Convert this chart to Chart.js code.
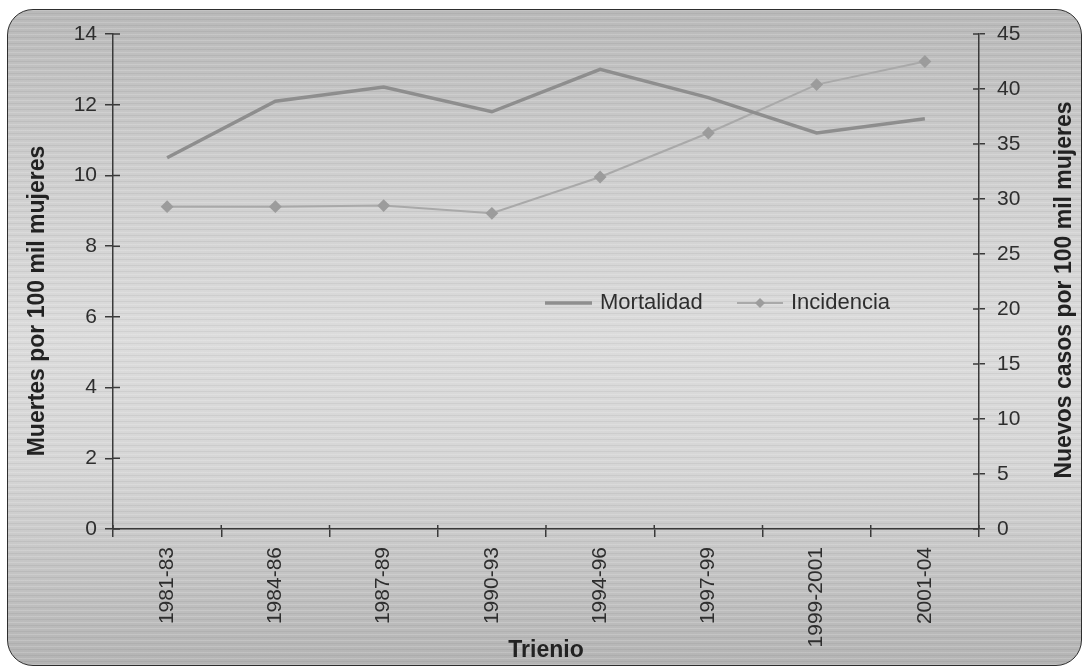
<!DOCTYPE html>
<html lang="es">
<head>
  <meta charset="UTF-8">
  <title>Mortalidad e incidencia por trienio</title>
  <script src="https://cdn.jsdelivr.net/npm/chart.js"></script>
  <style>
    html, body { margin: 0; padding: 0; background: #fff; }
    .wrap { position: relative; width: 1087px; height: 671px; overflow: hidden; }
    /* marco redondeado con degradado gris y rayas */
    .marco {
      position: absolute; left: 7px; top: 9px; width: 1073px; height: 655px;
      border: 1.5px solid #2e2e2e; border-radius: 26px;
      background:
        repeating-linear-gradient(to bottom, rgba(255,255,255,0.16) 0 1px, rgba(0,0,0,0) 1px 3px, rgba(0,0,0,0.05) 3px 4px, rgba(0,0,0,0) 4px 6px),
        linear-gradient(to bottom, #b9b9b9 0%, #cfcfcf 25%, #dcdcdc 50%, #d6d6d6 70%, #b4b4b4 100%);
    }
    canvas { position: absolute; left: 0; top: 0; }
  </style>
</head>
<body>
<div class="wrap">
  <div class="marco"></div>
  <canvas id="grafico" width="1087" height="671"></canvas>
</div>
<script>
  const trienios    = ['1981-83', '1984-86', '1987-89', '1990-93', '1994-96', '1997-99', '1999-2001', '2001-04'];
  const mortalidad  = [10.5, 12.1, 12.5, 11.8, 13.0, 12.2, 11.2, 11.6];
  const incidencia  = [29.3, 29.3, 29.4, 28.7, 32.0, 36.0, 40.4, 42.5];
  const tituloIzq   = 'Muertes por 100 mil mujeres';
  const tituloDer   = 'Nuevos casos por 100 mil mujeres';

  const fuente = '"Liberation Sans", Arial, sans-serif';
  const ejeColor = '#3a3a3a';
  const textoColor = '#2e2e2e';

  // marcas interiores de los ejes, títulos verticales y leyenda dentro del área
  const extras = {
    id: 'extras',
    afterDraw(chart) {
      const ctx = chart.ctx;
      const { x, y, y1 } = chart.scales;
      const ds = chart.data.datasets;
      ctx.save();
      ctx.strokeStyle = ejeColor;
      ctx.lineWidth = 1.5;
      ctx.beginPath();
      y.ticks.forEach((t, i) => {
        const py = y.getPixelForTick(i);
        ctx.moveTo(y.right, py); ctx.lineTo(y.right + 7, py);
      });
      y1.ticks.forEach((t, i) => {
        const py = y1.getPixelForTick(i);
        ctx.moveTo(y1.left, py); ctx.lineTo(y1.left - 6, py);
      });
      for (let i = 0; i <= trienios.length; i++) {
        const px = x.getPixelForValue(i - 0.5);
        ctx.moveTo(px, x.top); ctx.lineTo(px, x.top - 4);
      }
      ctx.stroke();

      // títulos de los ejes verticales (ambos de abajo hacia arriba)
      ctx.fillStyle = '#222';
      ctx.font = 'bold 23px ' + fuente;
      ctx.textAlign = 'center';
      ctx.textBaseline = 'middle';
      ctx.save();
      ctx.translate(38, 301);
      ctx.rotate(-Math.PI / 2);
      ctx.fillText(tituloIzq, 0, 0);
      ctx.restore();
      ctx.save();
      ctx.translate(1065, 290);
      ctx.rotate(-Math.PI / 2);
      ctx.fillText(tituloDer, 0, 0);
      ctx.restore();

      // leyenda
      const ly = 303;
      ctx.font = '22px ' + fuente;
      ctx.textAlign = 'left';
      ctx.fillStyle = textoColor;
      ctx.strokeStyle = ds[0].borderColor;
      ctx.lineWidth = ds[0].borderWidth;
      ctx.beginPath(); ctx.moveTo(545, ly); ctx.lineTo(592, ly); ctx.stroke();
      ctx.fillText(ds[0].label, 600, ly);
      ctx.strokeStyle = ds[1].borderColor;
      ctx.lineWidth = ds[1].borderWidth;
      ctx.beginPath(); ctx.moveTo(737, ly); ctx.lineTo(783, ly); ctx.stroke();
      ctx.fillStyle = ds[1].pointBackgroundColor;
      ctx.beginPath();
      ctx.moveTo(760, ly - 5); ctx.lineTo(765, ly); ctx.lineTo(760, ly + 5); ctx.lineTo(755, ly);
      ctx.closePath(); ctx.fill();
      ctx.fillStyle = textoColor;
      ctx.fillText(ds[1].label, 791, ly);
      ctx.restore();
    }
  };

  new Chart(document.getElementById('grafico'), {
    type: 'line',
    data: {
      labels: trienios,
      datasets: [
        {
          label: 'Mortalidad',
          data: mortalidad,
          yAxisID: 'y',
          borderColor: '#8e8e8e',
          borderWidth: 3.5,
          pointRadius: 0,
          tension: 0,
          fill: false
        },
        {
          label: 'Incidencia',
          data: incidencia,
          yAxisID: 'y1',
          borderColor: '#a9a9a9',
          borderWidth: 2,
          pointStyle: 'rectRot',
          pointRadius: 5,
          pointBackgroundColor: '#9c9c9c',
          pointBorderColor: '#9c9c9c',
          tension: 0,
          fill: false
        }
      ]
    },
    options: {
      responsive: false,
      animation: false,
      layout: { padding: { top: 34, left: 0, right: 0, bottom: 0 } },
      plugins: { legend: { display: false }, tooltip: { enabled: false } },
      scales: {
        x: {
          type: 'category',
          offset: true,
          grid: { display: true, drawOnChartArea: false, offset: true, tickLength: 8, color: ejeColor, lineWidth: 1.5 },
          border: { color: ejeColor, width: 1.5 },
          ticks: { autoSkip: false, minRotation: 90, maxRotation: 90, padding: 10, color: textoColor, font: { family: fuente, size: 21 } },
          title: { display: true, text: 'Trienio', color: '#222', font: { family: fuente, size: 23, weight: 'bold' }, padding: { top: 0, bottom: 7 } },
          afterFit: s => { s.height = 142; }
        },
        y: {
          position: 'left',
          min: 0, max: 14,
          grid: { display: true, drawOnChartArea: false, tickLength: 8, color: ejeColor, lineWidth: 1.5 },
          border: { color: ejeColor, width: 1.5 },
          ticks: { stepSize: 2, padding: 8, color: textoColor, font: { family: fuente, size: 21 } },
          afterFit: s => { s.width = 113; }
        },
        y1: {
          position: 'right',
          min: 0, max: 45,
          grid: { display: true, drawOnChartArea: false, tickLength: 6, color: ejeColor, lineWidth: 1.5 },
          border: { color: ejeColor, width: 1.5 },
          ticks: { stepSize: 5, padding: 12, color: textoColor, font: { family: fuente, size: 21 } },
          afterFit: s => { s.width = 108; }
        }
      }
    },
    plugins: [extras]
  });
</script>
</body>
</html>
